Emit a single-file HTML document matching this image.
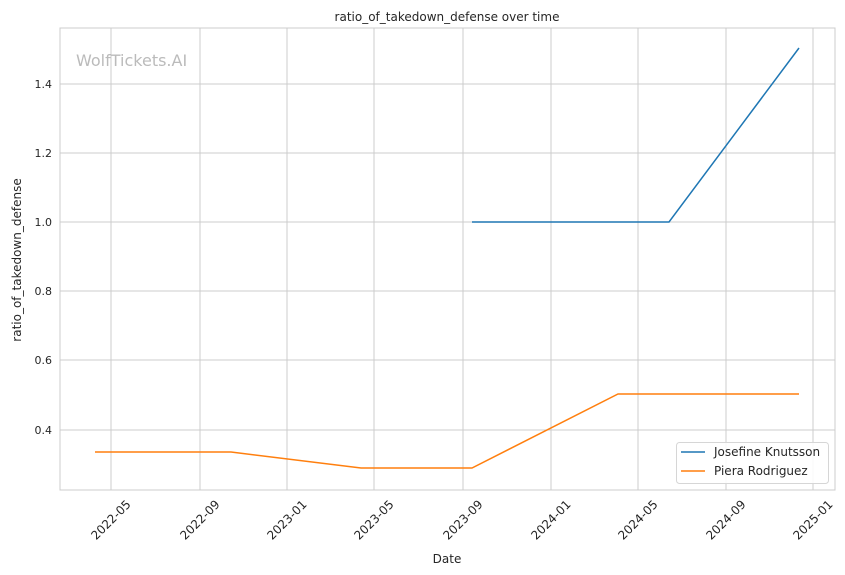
<!DOCTYPE html>
<html><head><style>body{margin:0;background:#fff}svg{display:block;font-family:"DejaVu Sans","Liberation Sans",sans-serif}</style></head>
<body>
<svg width="845" height="575" xmlns="http://www.w3.org/2000/svg">
<rect width="845" height="575" fill="#fff"/>
<g stroke="#cccccc" stroke-width="1">
<line x1="111" y1="28" x2="111" y2="490"/><line x1="200" y1="28" x2="200" y2="490"/><line x1="287" y1="28" x2="287" y2="490"/><line x1="374" y1="28" x2="374" y2="490"/><line x1="463" y1="28" x2="463" y2="490"/><line x1="551" y1="28" x2="551" y2="490"/><line x1="638" y1="28" x2="638" y2="490"/><line x1="726" y1="28" x2="726" y2="490"/><line x1="813" y1="28" x2="813" y2="490"/>
<line x1="60" y1="84" x2="835" y2="84"/><line x1="60" y1="153" x2="835" y2="153"/><line x1="60" y1="222" x2="835" y2="222"/><line x1="60" y1="291" x2="835" y2="291"/><line x1="60" y1="360" x2="835" y2="360"/><line x1="60" y1="430" x2="835" y2="430"/>
</g>
<rect x="60" y="28" width="775" height="462" fill="none" stroke="#cccccc" stroke-width="1"/>
<text x="76" y="66" font-size="16" fill="#bbbbbb">WolfTickets.AI</text>
<polyline points="472,222 669,222 799,48" fill="none" stroke="#1f77b4" stroke-width="1.5"/>
<polyline points="95,452 231,452 361,468 472,468 618,394 799,394" fill="none" stroke="#ff7f0e" stroke-width="1.5"/>
<g font-size="11" fill="#262626" text-anchor="end">
<text x="52" y="88">1.4</text><text x="52" y="157">1.2</text><text x="52" y="226">1.0</text><text x="52" y="295">0.8</text><text x="52" y="364">0.6</text><text x="52" y="434">0.4</text>
</g>
<g font-size="12" fill="#262626" text-anchor="middle">
<text transform="translate(111,520) rotate(-45)" dy="4">2022-05</text>
<text transform="translate(200,520) rotate(-45)" dy="4">2022-09</text>
<text transform="translate(287,520) rotate(-45)" dy="4">2023-01</text>
<text transform="translate(374,520) rotate(-45)" dy="4">2023-05</text>
<text transform="translate(463,520) rotate(-45)" dy="4">2023-09</text>
<text transform="translate(551,520) rotate(-45)" dy="4">2024-01</text>
<text transform="translate(638,520) rotate(-45)" dy="4">2024-05</text>
<text transform="translate(726,520) rotate(-45)" dy="4">2024-09</text>
<text transform="translate(813,520) rotate(-45)" dy="4">2025-01</text>
</g>
<text x="447" y="563" font-size="12" fill="#262626" text-anchor="middle">Date</text>
<text transform="translate(21,260) rotate(-90)" font-size="12" fill="#262626" text-anchor="middle">ratio_of_takedown_defense</text>
<text x="447" y="21" font-size="12" fill="#262626" text-anchor="middle">ratio_of_takedown_defense over time</text>
<rect x="676.5" y="442.5" width="152" height="41" rx="3" fill="#fff" fill-opacity="0.85" stroke="#d6d6d6"/>
<line x1="681" y1="452" x2="705" y2="452" stroke="#1f77b4" stroke-width="1.5"/>
<line x1="681" y1="471" x2="705" y2="471" stroke="#ff7f0e" stroke-width="1.5"/>
<text x="714" y="456" font-size="12" fill="#262626">Josefine Knutsson</text>
<text x="714" y="475" font-size="12" fill="#262626">Piera Rodriguez</text>
</svg>
</body></html>
